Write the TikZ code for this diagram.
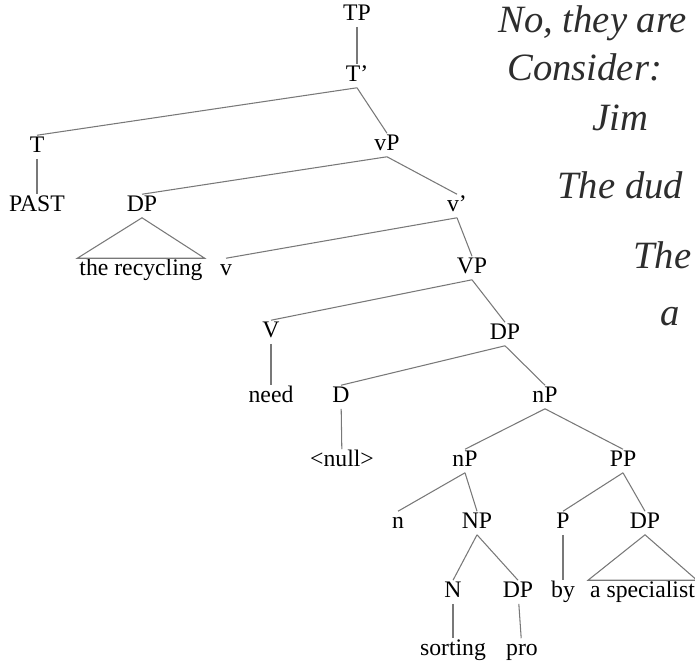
\documentclass[tikz,border=0pt]{standalone}
\usepackage{fontspec}
\setmainfont{Liberation Serif}
\usepackage{xcolor}
\usetikzlibrary{positioning}
\definecolor{branchgray}{RGB}{120,120,120}
\definecolor{penink}{RGB}{45,45,45}

\begin{document}
\begin{tikzpicture}[x=0.02cm, y=-0.02cm,
    lbl/.style={font=\fontsize{13.5}{15}\selectfont, inner sep=1pt,
                text height=8.5pt, text depth=2.5pt},
    branch/.style={draw=branchgray, line width=0.6pt},
    hand/.style={font=\fontsize{22}{24}\selectfont\itshape, text=penink,
                 anchor=base west, inner sep=0pt}]
        \useasboundingbox (0,0) rectangle (695,660);
        \clip (0,0) rectangle (695,660);
        % tree nodes
        \node[lbl] (tp)    at (357, 15)  {TP};
        \node[lbl] (tbar)  at (357, 76)  {T'};
        \node[lbl] (t)     at (37, 147)  {T};
        \node[lbl] (vp)    at (387, 145) {vP};
        \node[lbl] (past)  at (37, 206)  {PAST};
        \node[lbl] (dpa)   at (142, 206) {DP};
        \node[lbl] (vbar)  at (457, 206) {v'};
        \node[lbl] (recyc) at (141, 270) {the recycling};
        \node[lbl] (lv)    at (226, 270) {v};
        \node[lbl] (bigvp) at (472, 268) {VP};
        \node[lbl] (bigv)  at (271, 332) {V};
        \node[lbl] (dpb)   at (505, 334) {DP};
        \node[lbl] (need)  at (271, 397) {need};
        \node[lbl] (d)     at (341, 397) {D};
        \node[lbl] (np)    at (545, 397) {nP};
        \node[lbl] (null)  at (342, 461) {<null>};
        \node[lbl] (npb)   at (465, 461) {nP};
        \node[lbl] (pp)    at (623, 461) {PP};
        \node[lbl] (ln)    at (398, 523) {n};
        \node[lbl] (bignp) at (477, 523) {NP};
        \node[lbl] (p)     at (563, 523) {P};
        \node[lbl] (dpc)   at (645, 523) {DP};
        \node[lbl] (bign)  at (453, 592) {N};
        \node[lbl] (dpd)   at (518, 592) {DP};
        \node[lbl] (by)    at (563, 592) {by};
        \node[lbl, anchor=west] (spec) at (588, 592) {a specialist};
        \node[lbl] (sort)  at (453, 650) {sorting};
        \node[lbl] (pro)   at (522, 650) {pro};
        % branches
        \draw[branch] (tp) -- (tbar);
        \draw[branch] (tbar.south) -- (t.north);
        \draw[branch] (tbar.south) -- (vp.north);
        \draw[branch] (t) -- (past);
        \draw[branch] (vp.south) -- (dpa.north);
        \draw[branch] (vp.south) -- (vbar.north);
        \draw[branch] (dpa.south) -- (recyc.north west) -- (recyc.north east) -- cycle;
        \draw[branch] (vbar.south) -- (lv.north);
        \draw[branch] (vbar.south) -- (bigvp.north);
        \draw[branch] (bigvp.south) -- (bigv.north);
        \draw[branch] (bigvp.south) -- (dpb.north);
        \draw[branch] (bigv) -- (need);
        \draw[branch] (dpb.south) -- (d.north);
        \draw[branch] (dpb.south) -- (np.north);
        \draw[branch] (d) -- (null);
        \draw[branch] (np.south) -- (npb.north);
        \draw[branch] (np.south) -- (pp.north);
        \draw[branch] (npb.south) -- (ln.north);
        \draw[branch] (npb.south) -- (bignp.north);
        \draw[branch] (pp.south) -- (p.north);
        \draw[branch] (pp.south) -- (dpc.north);
        \draw[branch] (bignp.south) -- (bign.north);
        \draw[branch] (bignp.south) -- (dpd.north);
        \draw[branch] (p) -- (by);
        \draw[branch] (dpc.south) -- (spec.north west) -- (spec.north east) -- cycle;
        \draw[branch] (bign) -- (sort);
        \draw[branch] (dpd) -- (pro);
        % handwritten note
        \node[hand] (note1) at (498, 32)  {No, they are};
        \node[hand] (note2) at (507, 80)  {Consider:};
        \node[hand] (note3) at (592, 130) {Jim};
        \node[hand] (note4) at (557, 198) {The dud};
        \node[hand] (note5) at (633, 268) {The};
        \node[hand] (note6) at (660, 325) {a};
      \end{tikzpicture}
\end{document}
